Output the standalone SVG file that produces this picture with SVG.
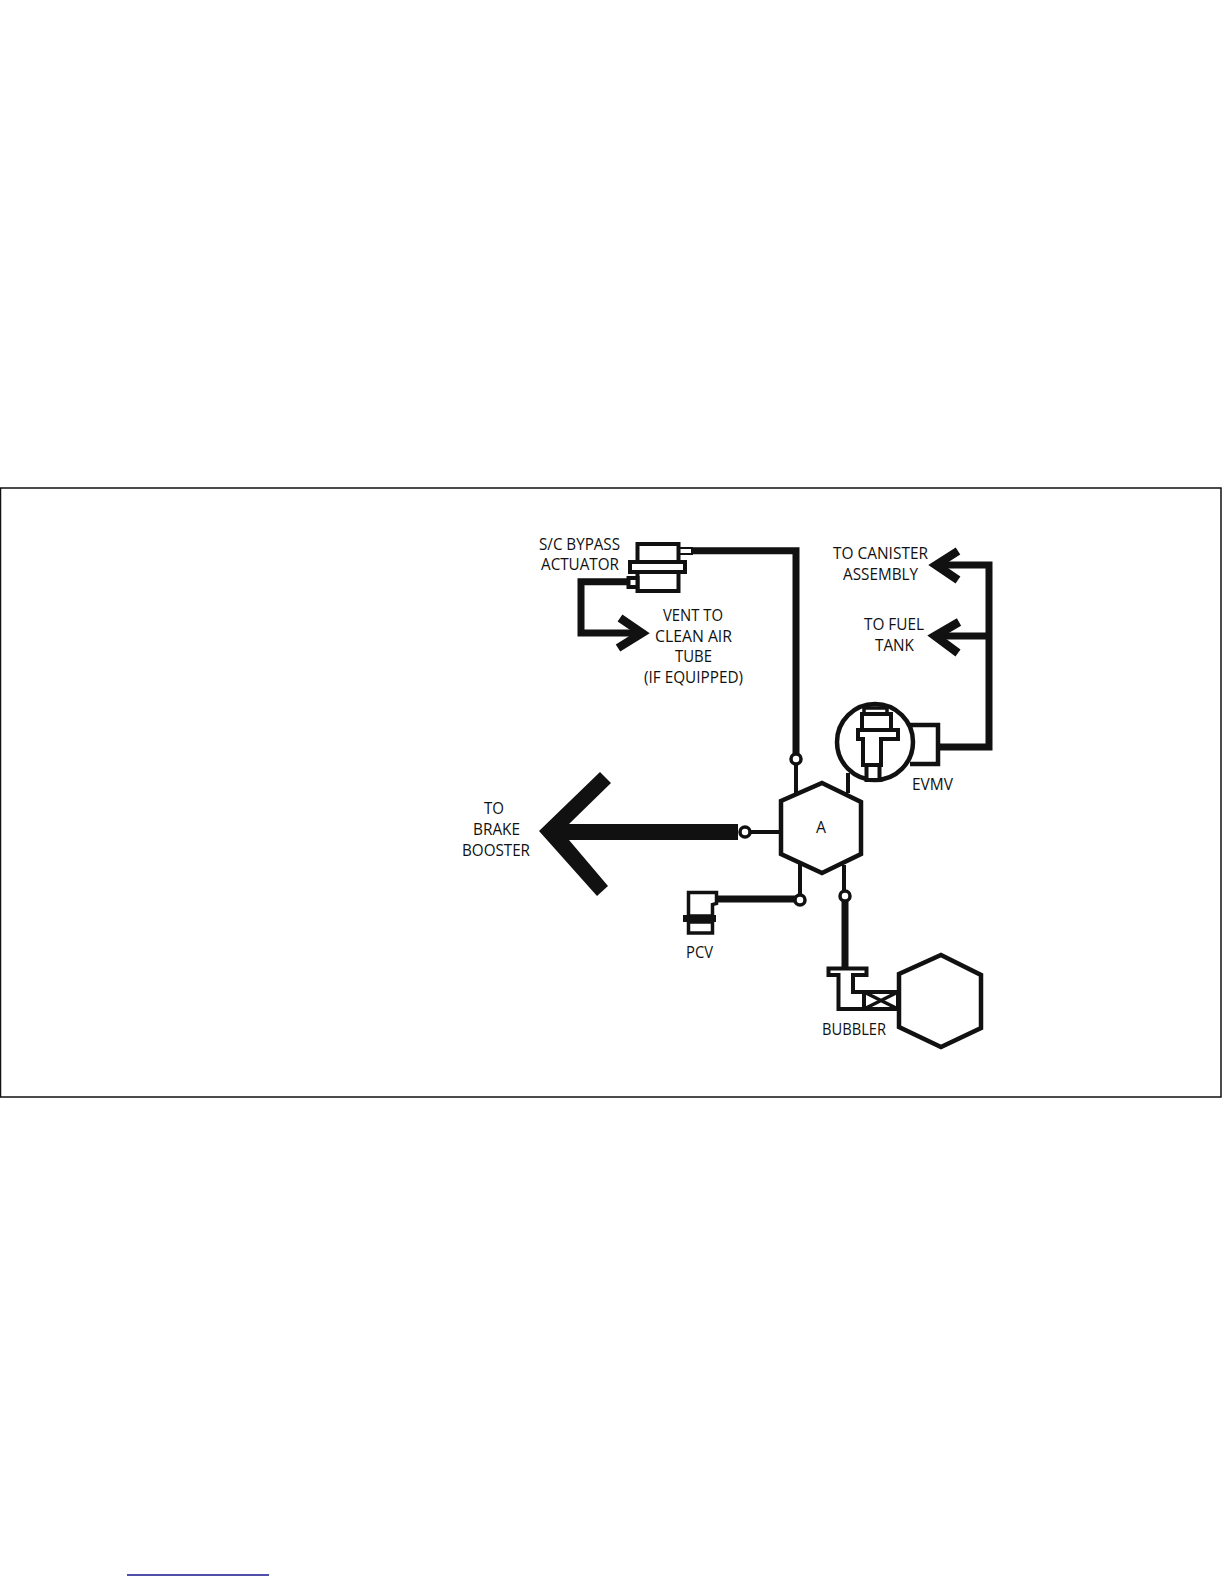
<svg xmlns="http://www.w3.org/2000/svg" width="1224" height="1584" viewBox="0 0 1224 1584">
<style>
text{font-family:"Open Sans","Noto Sans","Liberation Sans",sans-serif;font-size:16px;fill:#111}
.o{fill:#fff;stroke:#111;stroke-width:4}
.n{fill:none;stroke:#111;stroke-width:3.5}
.h{fill:#fff;stroke:#111;stroke-width:4.500}
.l{fill:none;stroke:#111;stroke-width:7}
.a{fill:none;stroke:#111;stroke-width:8.500}
.t{fill:none;stroke:#111;stroke-width:4}
.c{fill:#fff;stroke:#111;stroke-width:3.500}
</style>
<rect width="1224" height="1584" fill="#fff"/>
<rect id="frame" x="0.5" y="488" width="1220.500" height="609" fill="none" stroke="#111" stroke-width="1.500"/>
<line id="footer-rule" x1="127" y1="1575" x2="269" y2="1575" stroke="#14148c" stroke-width="1.500"/>
<g id="connectors">
<polyline class="l" points="692,550.7 796,550.7 796,755"/>
<polyline class="l" points="627,581.700 581,581.700 581,633 640,633"/>
<polyline class="a" points="620,618 642,633 618,648"/>
<polyline class="l" points="939,747 989,747 989,565 936,565"/>
<polyline class="a" points="958,551 936,565 958,580"/>
<line class="l" x1="989" y1="636" x2="935" y2="636"/>
<polyline class="a" points="959,622 935,636 958,653"/>
<polygon id="brake-arrow" fill="#111" points="539,831 600,772 611,783 569,824 738,824 738,840 569,840 608,886 597,896"/>
<line class="t" x1="796" y1="763" x2="796" y2="793"/>
<line class="t" x1="848" y1="773" x2="848" y2="793"/>
<line class="t" x1="749" y1="832" x2="781" y2="832"/>
<line class="t" x1="800" y1="864" x2="800" y2="896"/>
<line class="t" x1="844" y1="865" x2="844" y2="892"/>
<line class="l" x1="717" y1="899" x2="796" y2="899"/>
<line class="l" x1="845" y1="900" x2="845" y2="967"/>
<circle class="c" cx="796" cy="759" r="5"/>
<circle class="c" cx="745" cy="832" r="5"/>
<circle class="c" cx="800" cy="900" r="5"/>
<circle class="c" cx="845" cy="896" r="5"/>
</g>
<g id="actuator">
<rect class="o" x="637.500" y="544" width="41" height="47"/>
<rect class="o" x="630" y="562" width="55" height="10"/>
<rect class="n" x="679" y="548" width="13" height="6" style="stroke-width:2"/>
<rect class="o" x="628.500" y="578" width="9" height="9"/>
<text x="539" y="549.500" textLength="81" lengthAdjust="spacingAndGlyphs">S/C BYPASS</text>
<text x="541" y="569.500" textLength="78" lengthAdjust="spacingAndGlyphs">ACTUATOR</text>
</g>
<g id="vent-label">
<text x="663" y="620.500" textLength="60" lengthAdjust="spacingAndGlyphs">VENT TO</text>
<text x="655" y="641.500" textLength="77" lengthAdjust="spacingAndGlyphs">CLEAN AIR</text>
<text x="675" y="661.500" textLength="37" lengthAdjust="spacingAndGlyphs">TUBE</text>
<text x="644" y="682.500" textLength="99" lengthAdjust="spacingAndGlyphs">(IF EQUIPPED)</text>
</g>
<g id="canister-label">
<text x="833" y="558.500" textLength="95" lengthAdjust="spacingAndGlyphs">TO CANISTER</text>
<text x="843" y="579.500" textLength="75" lengthAdjust="spacingAndGlyphs">ASSEMBLY</text>
</g>
<g id="fuel-label">
<text x="864" y="629.500" textLength="60" lengthAdjust="spacingAndGlyphs">TO FUEL</text>
<text x="875" y="650.500" textLength="39" lengthAdjust="spacingAndGlyphs">TANK</text>
</g>
<g id="brake-label">
<text x="484" y="813.500" textLength="20" lengthAdjust="spacingAndGlyphs">TO</text>
<text x="473" y="834.500" textLength="47" lengthAdjust="spacingAndGlyphs">BRAKE</text>
<text x="462" y="855.500" textLength="68" lengthAdjust="spacingAndGlyphs">BOOSTER</text>
</g>
<g id="evmv">
<polyline class="h" points="910,725 938,725 938,764 910,764"/>
<circle class="h" cx="875" cy="742" r="38"/>
<rect class="c" x="864" y="708" width="23" height="6"/>
<rect class="o" x="862" y="714" width="29" height="16"/>
<rect class="o" x="866.500" y="765" width="13" height="15"/>
<path class="o" d="M858,730H898V739H881V765H863V739H858Z"/>
<text x="912" y="789.500" textLength="41" lengthAdjust="spacingAndGlyphs">EVMV</text>
</g>
<g id="hex-a">
<polygon class="h" points="822,783 861,802 861,854 822,873 781,854 781,801"/>
<text x="816" y="832.500" textLength="10" lengthAdjust="spacingAndGlyphs">A</text>
</g>
<g id="pcv">
<path class="c" d="M688.500,892.500H716.500V903.500L712.500,904.500V916H688.500Z"/>
<rect class="c" x="688.500" y="922" width="24" height="11"/>
<rect x="683" y="915" width="33" height="7" fill="#111"/>
<text x="686" y="957.500" textLength="27" lengthAdjust="spacingAndGlyphs">PCV</text>
</g>
<g id="bubbler">
<path class="o" d="M828.500,968.500H866.500V975H853V992H898V1009H838.500V975H828.500Z"/>
<rect class="o" x="864" y="992" width="34" height="17"/>
<path class="n" d="M864,992L898,1009M864,1009L898,992"/>
<text x="822" y="1034.500" textLength="64" lengthAdjust="spacingAndGlyphs">BUBBLER</text>
</g>
<g id="hex-b">
<polygon class="h" points="941,955 981,975 981,1028 941,1047 899,1027 899,974"/>
</g>
</svg>
